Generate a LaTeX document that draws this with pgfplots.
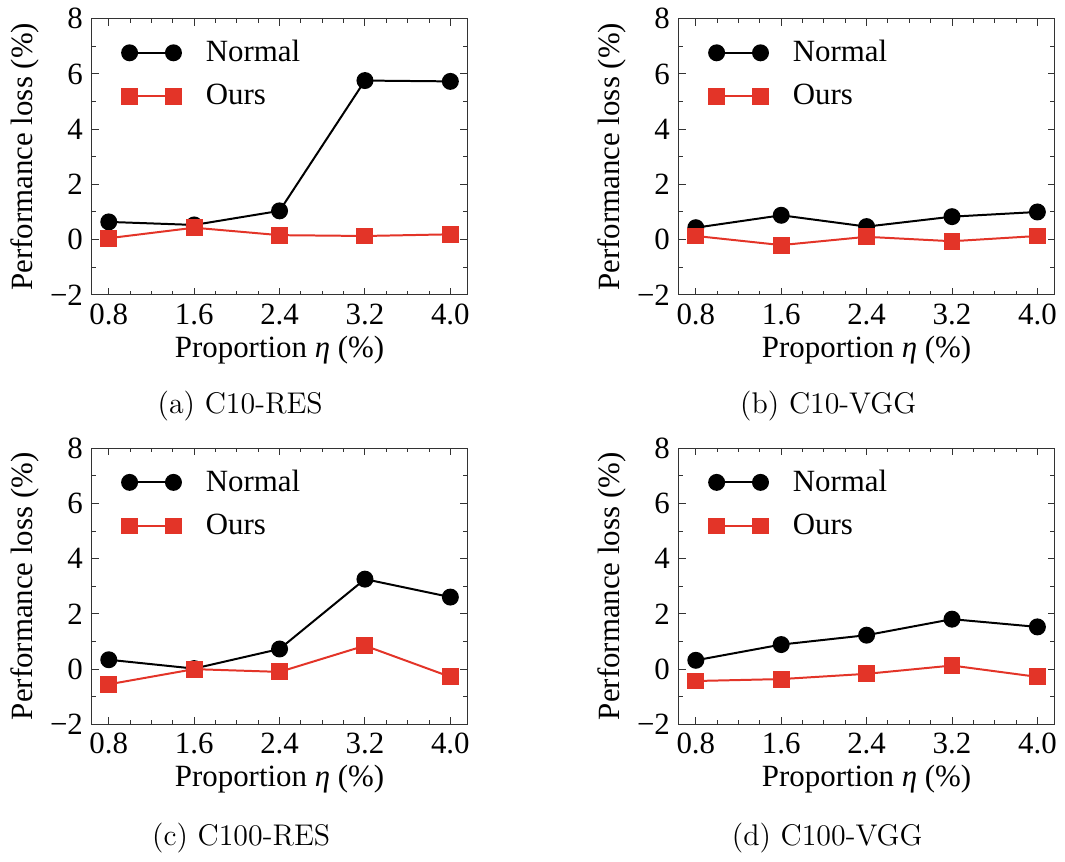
\documentclass[border=0pt]{standalone}
\usepackage{fontspec}
\usepackage{pgfplots}
\pgfplotsset{compat=1.18}
\newfontfamily\tnr{Liberation Serif}
\definecolor{ourred}{RGB}{227,52,40}

\pgfplotsset{
  lossax/.style={
    scale only axis,
    width=150.8pt, height=110.8pt,
    anchor=north west,
    font=\tnr\fontsize{12.4}{14}\selectfont,
    xmin=0.64, xmax=4.16,
    ymin=-2, ymax=8,
    xtick={0.8,1.6,2.4,3.2,4.0},
    xticklabels={0.8,1.6,2.4,3.2,4.0},
    ytick={-2,0,2,4,6,8},
    yticklabels={−2,0,2,4,6,8},
    minor x tick num=3,
    minor y tick num=1,
    tick align=inside,
    major tick length=2.8pt,
    minor tick length=1.6pt,
    axis line style={line width=0.5pt, black!80},
    every tick/.style={black!80, line width=0.4pt},
    xlabel={Proportion {\itshape η} (\%)},
    ylabel={Performance loss (\%)},
    every axis x label/.style={at={(axis description cs:0.5,-0.2)}, anchor=center},
    every axis y label/.style={at={(axis description cs:-0.178,0.5)}, anchor=center, rotate=90},
    legend cell align=left,
    legend image code/.code={\draw[##1] plot coordinates {(0pt,0pt) (17.6pt,0pt)};},
    legend style={at={(axis description cs:0.02,0.96)}, anchor=north west, xshift=6pt,
      draw=none, fill=none, row sep=3.6pt,
      /tikz/every odd column/.append style={column sep=8pt}},
  },
  normal/.style={black, line width=0.8pt, mark=*, mark size=3pt, mark options={solid, fill=black}},
  ours/.style={ourred, line width=0.8pt, mark=square*, mark size=3pt, mark options={solid, fill=ourred}},
}

\begin{document}
\begin{tikzpicture}
\path (0,0) rectangle (426pt,-341.6pt);

% (a) C10-RES
\begin{axis}[lossax, at={(36.8pt,-4.8pt)}]
\addplot[normal] coordinates {(0.8,0.64) (1.6,0.53) (2.4,1.04) (3.2,5.76) (4.0,5.73)};
\addplot[ours] coordinates {(0.8,0.05) (1.6,0.43) (2.4,0.16) (3.2,0.13) (4.0,0.19)};
\legend{Normal, Ours}
\end{axis}

% (b) C10-VGG
\begin{axis}[lossax, at={(272.4pt,-4.8pt)}]
\addplot[normal] coordinates {(0.8,0.43) (1.6,0.88) (2.4,0.47) (3.2,0.83) (4.0,1.00)};
\addplot[ours] coordinates {(0.8,0.13) (1.6,-0.20) (2.4,0.10) (3.2,-0.06) (4.0,0.13)};
\legend{Normal, Ours}
\end{axis}

% (c) C100-RES
\begin{axis}[lossax, at={(36.8pt,-177.2pt)}]
\addplot[normal] coordinates {(0.8,0.34) (1.6,0.02) (2.4,0.73) (3.2,3.26) (4.0,2.61)};
\addplot[ours] coordinates {(0.8,-0.55) (1.6,0.00) (2.4,-0.10) (3.2,0.85) (4.0,-0.28)};
\legend{Normal, Ours}
\end{axis}

% (d) C100-VGG
\begin{axis}[lossax, at={(272.4pt,-177.2pt)}]
\addplot[normal] coordinates {(0.8,0.32) (1.6,0.89) (2.4,1.23) (3.2,1.81) (4.0,1.53)};
\addplot[ours] coordinates {(0.8,-0.43) (1.6,-0.36) (2.4,-0.17) (3.2,0.13) (4.0,-0.28)};
\legend{Normal, Ours}
\end{axis}

\begin{scope}[every node/.style={font=\fontsize{12}{14}\selectfont}]
\node at (96.4pt,-160.4pt) {(a) C10-RES};
\node at (332.4pt,-160.4pt) {(b) C10-VGG};
\node at (96.8pt,-333.6pt) {(c) C100-RES};
\node at (332pt,-333.6pt) {(d) C100-VGG};
\end{scope}
\end{tikzpicture}
\end{document}
